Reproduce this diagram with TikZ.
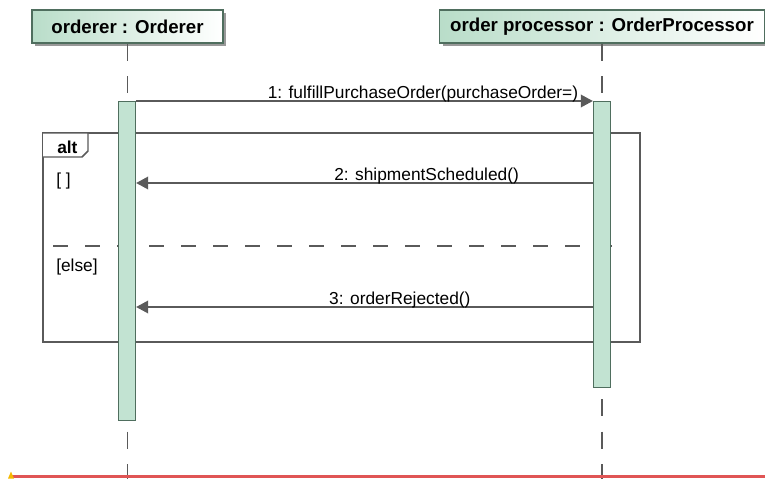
\documentclass[tikz,border=0pt]{standalone}
\usepackage{fontspec}
\setmainfont{Liberation Sans}
\usepackage{xcolor}
\usetikzlibrary{arrows.meta}
\usetikzlibrary{shadows}
\definecolor{headmint}{HTML}{B9DDC9}
\definecolor{actmint}{HTML}{C2E3D2}
\definecolor{mintborder}{HTML}{4F6E5E}
\definecolor{linegray}{HTML}{5A5A5A}
\definecolor{warnred}{HTML}{E05555}
\definecolor{warnyellow}{HTML}{F5B800}
\tikzset{ head_box/.style = {rectangle, draw=mintborder, line width=1.1pt, left color=headmint, right color=white, minimum height=24.75pt, inner sep=0pt, font=\fontsize{14pt}{16pt}\selectfont\bfseries, general shadow={fill=black!40, shadow xshift=2.25pt, shadow yshift=-2.25pt}} }
\tikzset{ act_box/.style = {rectangle, draw=mintborder, line width=1pt, fill=actmint, minimum width=12.75pt, inner sep=0pt, anchor=north} }
\tikzset{ life_line/.style = {draw=linegray, line width=1pt, dash pattern=on 12.75pt off 11.5pt} }
\tikzset{ msg/.style = {draw=linegray, line width=1pt, -{Triangle[length=9pt, width=9.5pt]}} }
\tikzset{ msg_label/.style = {anchor=base, yshift=2.25pt, inner sep=0pt, font=\fontsize{13pt}{15pt}\selectfont} }
\tikzset{ frame_line/.style = {draw=linegray, line width=1.1pt} }
\tikzset{ guard_text/.style = {anchor=base west, inner sep=0pt, font=\fontsize{13pt}{15pt}\selectfont} }
\begin{document}
\begin{tikzpicture}[x=0.75pt,y=-0.75pt]
            \useasboundingbox (0,0) rectangle (765,479);
            \coordinate (bottom) at (0,479);
            \coordinate (m2) at (0,183);
            \coordinate (m3) at (0,307);
            \node [style=head_box, minimum width=143.25pt] (O) at (127.5,26.5) {orderer : Orderer};
            \node [style=head_box, minimum width=243.75pt] (P) at (602,26.5) {order processor : OrderProcessor};
            \draw [style=life_line] (O.south) to (O.south |- bottom);
            \draw [style=life_line] (P.south) to (P.south |- bottom);
            \draw [style=frame_line] (43,133) rectangle (640,342);
            \draw [style=frame_line, dash pattern=on 11.25pt off 12.75pt, dash phase=16.5pt] (43,246) to (617,246);
            \draw [style=frame_line, fill=white] (43,133) -- (88,133) -- (88,151) -- (82,157) -- (43,157);
            \node [style=guard_text, font=\fontsize{13pt}{15pt}\selectfont\bfseries] (alt) at (57,153) {alt};
            \node [style=guard_text] (g1) at (56,185) {[ ]};
            \node [style=guard_text] (g2) at (56,271) {[else]};
            \node [style=act_box, minimum height=239.25pt] (OA) at (127,101) {};
            \node [style=act_box, minimum height=214.5pt] (PA) at (602,101) {};
            \draw [style=msg] (OA.north east) to node [style=msg_label, pos=0.628] {1: fulfillPurchaseOrder(purchaseOrder=)} (PA.north west);
            \draw [style=msg] (PA.west |- m2) to node [style=msg_label, pos=0.364] {2: shipmentScheduled()} (OA.east |- m2);
            \draw [style=msg] (PA.west |- m3) to node [style=msg_label, pos=0.4225] {3: orderRejected()} (OA.east |- m3);
            \draw [draw=warnred, line width=2.25pt] (12,476) to (765,476);
            \fill [warnyellow] (8,478.5) -- (11,471.5) -- (14,478.5) -- cycle;
       \end{tikzpicture}
\end{document}
